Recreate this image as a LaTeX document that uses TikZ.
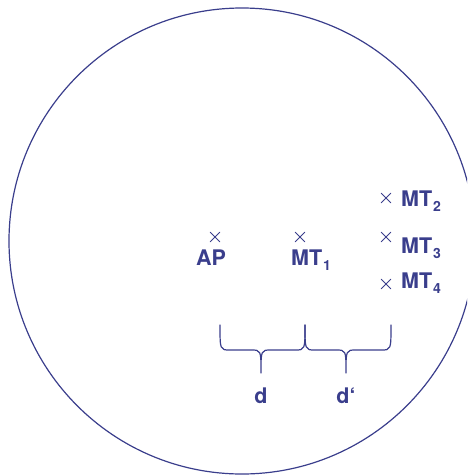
\documentclass[tikz,border=0pt]{standalone}
\usepackage{fontspec}
\setmainfont{TeX Gyre Heros}
\usetikzlibrary{shapes.misc,positioning}
\definecolor{ink}{RGB}{58,62,140}
\newcommand{\lowidx}[1]{\kern1pt\raisebox{-5pt}{\fontsize{14}{14}\selectfont#1}}
\begin{document}
\begin{tikzpicture}[x=1pt, y=-1pt, line join=round, line cap=round,
  font=\fontsize{21.5}{26}\selectfont\bfseries,
  station/.style={cross out, draw=ink, line width=0.9pt, minimum size=8.5pt, inner sep=0pt},
  tag/.style={anchor=base west, inner sep=0pt, text=ink}]
\useasboundingbox (0,0) rectangle (467,475);
\clip (0,0) rectangle (467,475);
\draw[ink, line width=1.2pt] (242,241) circle (233pt);
% stations
\node[station] (ap) at (215,237) {};
\node[station] (mt1) at (300,237) {};
\node[station] (mt2) at (386,198) {};
\node[station] (mt3) at (386,237) {};
\node[station] (mt4) at (386,284) {};
\node[tag] (aplabel) at (196,265) {AP};
\node[tag] (mt1label) at (291,265) {MT\lowidx{1}};
\node[tag] (mt2label) at (401,206) {MT\lowidx{2}};
\node[tag] (mt3label) at (401,253) {MT\lowidx{3}};
\node[tag] (mt4label) at (401,288) {MT\lowidx{4}};
% distances
\foreach \xa/\xm/\xb/\name/\txt in {220/261/305/d/d, 305/346/391/dd/d‘}{
  \draw[ink, line width=1.2pt] (\xa,325) .. controls (\xa,350) .. (\xa+10,350) -- (\xm-10,350)
    .. controls (\xm,350) .. (\xm,373) coordinate (tip\name)
    .. controls (\xm,350) .. (\xm+10,350) -- (\xb-10,350) .. controls (\xb,350) .. (\xb,325);
  \node[below=15pt of tip\name, inner sep=0pt, text=ink] (\name label) {\txt};
}
\end{tikzpicture}
\end{document}
